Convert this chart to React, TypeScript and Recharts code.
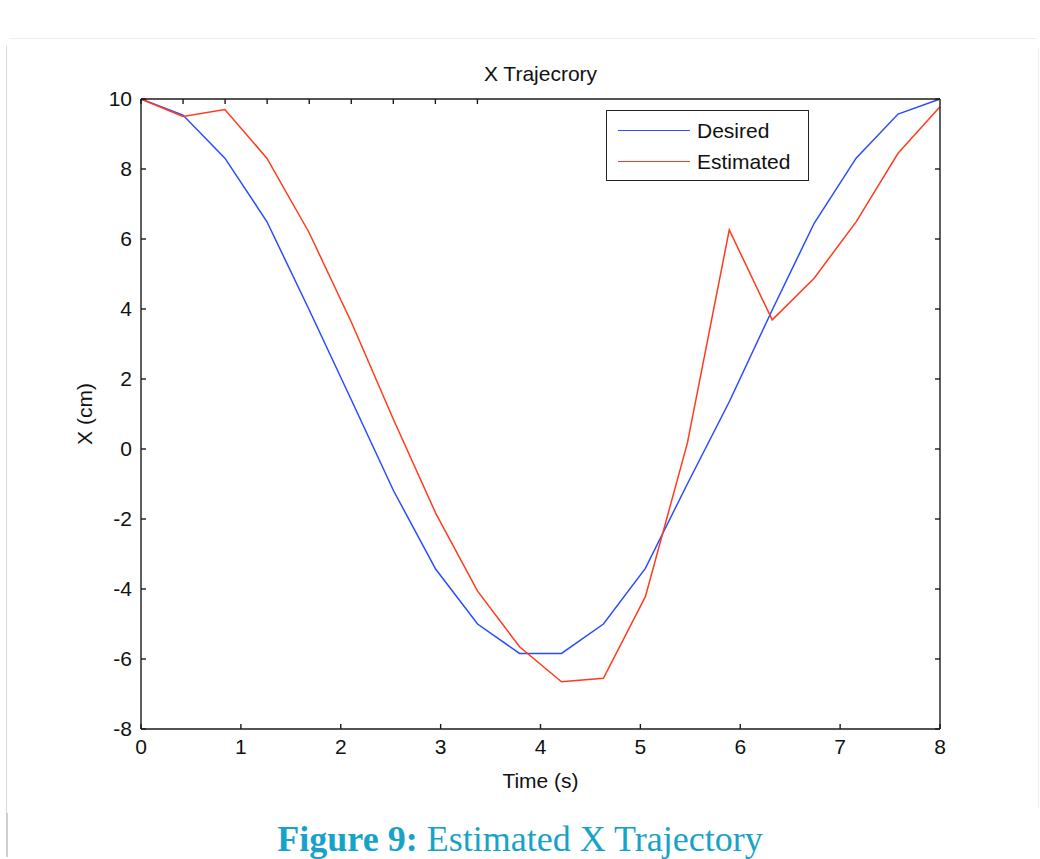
import React from 'react';
import { Label, Legend, Line, LineChart, XAxis, YAxis } from 'recharts';

// sample times (s)
const zeit = [0, 0.42, 0.84, 1.26, 1.68, 2.11, 2.53, 2.95, 3.37, 3.79, 4.21, 4.63, 5.05, 5.47, 5.89, 6.32, 6.74, 7.16, 7.58, 8];

// X position (cm)
const gewuenscht = [10, 9.54, 8.31, 6.5, 4.0, 1.38, -1.2, -3.43, -5.0, -5.84, -5.84, -5.0, -3.41, -1.0, 1.35, 3.97, 6.45, 8.31, 9.57, 10];
const geschaetzt = [10, 9.5, 9.7, 8.31, 6.2, 3.6, 0.83, -1.83, -4.06, -5.65, -6.65, -6.55, -4.22, 0.16, 6.26, 3.69, 4.88, 6.49, 8.45, 9.78];

const xTicks = [0, 1, 2, 3, 4, 5, 6, 7, 8];
const yTicks = [-8, -6, -4, -2, 0, 2, 4, 6, 8, 10];

const daten = zeit.map((t, i) => ({ t, desired: gewuenscht[i], estimated: geschaetzt[i] }));

const SCHRIFT = '"Liberation Sans", Arial, sans-serif';
const tickStil = { fill: '#111', fontSize: 21, fontFamily: SCHRIFT };
const achse = { stroke: '#1a1a1a', strokeWidth: 1.4 };
const leer = () => '';

function LegendenBox({ payload }: any) {
  return (
    <div
      style={{
        boxSizing: 'border-box',
        width: 203,
        height: 71,
        border: '1.5px solid #222',
        background: '#fff',
        padding: '4px 0 0 11px',
        fontFamily: SCHRIFT,
        fontSize: 21,
        color: '#111',
      }}
    >
      {(payload || []).map((e: any) => (
        <div key={e.value} style={{ display: 'flex', alignItems: 'center', height: 31 }}>
          <span style={{ display: 'inline-block', width: 72, height: 0, borderTop: `1.5px solid ${e.color}`, marginRight: 7 }} />
          <span>{e.value}</span>
        </div>
      ))}
    </div>
  );
}

export default function App() {
  return (
    <div style={{ position: 'absolute', left: 0, top: 0, width: 1040, height: 859, background: '#fff' }}>
      {/* Rahmen */}
      <div style={{ position: 'absolute', left: 9, right: 3, top: 38, height: 0, borderTop: '1px solid #f0f0f0' }} />
      <div style={{ position: 'absolute', left: 6, top: 46, height: 767, width: 0, borderLeft: '1px solid #d8d8d8' }} />
      <div style={{ position: 'absolute', left: 6, top: 813, height: 44, width: 0, borderLeft: '2px solid #cfcfcf' }} />
      <div style={{ position: 'absolute', left: 1038, top: 48, height: 760, width: 0, borderLeft: '1px solid #f0f0f0' }} />

      <div
        style={{
          position: 'absolute',
          left: 141,
          width: 799,
          top: 63,
          textAlign: 'center',
          fontFamily: SCHRIFT,
          fontSize: 21,
          lineHeight: '21px',
          color: '#111',
        }}
      >
        X Trajecrory
      </div>

      <LineChart width={1040} height={859} data={daten} margin={{ top: 89, right: 90, bottom: 26, left: 29 }}>
        <XAxis
          dataKey="t"
          type="number"
          domain={[0, 8]}
          ticks={xTicks}
          height={104}
          tick={tickStil}
          tickSize={-5}
          tickMargin={15}
          tickLine={achse}
          axisLine={achse}
        >
          <Label value="Time (s)" position="center" fill="#111" fontSize={21} fontFamily={SCHRIFT} />
        </XAxis>
        <XAxis
          xAxisId="top"
          orientation="top"
          type="number"
          domain={[0, 8]}
          allowDataOverflow
          ticks={xTicks}
          height={10}
          tickFormatter={leer}
          tickSize={-5}
          tickLine={achse}
          axisLine={achse}
        />
        <YAxis
          type="number"
          domain={[-8, 10]}
          ticks={yTicks}
          width={112}
          tick={tickStil}
          tickSize={-5}
          tickMargin={14}
          tickLine={achse}
          axisLine={achse}
        >
          <Label value="X (cm)" angle={-90} position="center" fill="#111" fontSize={21} fontFamily={SCHRIFT} />
        </YAxis>
        <YAxis
          yAxisId="right"
          orientation="right"
          type="number"
          domain={[-8, 10]}
          allowDataOverflow
          ticks={yTicks}
          width={10}
          tickFormatter={leer}
          tickSize={-5}
          tickLine={achse}
          axisLine={achse}
        />
        <Legend
          layout="horizontal"
          verticalAlign="middle"
          align="center"
          content={<LegendenBox />}
          wrapperStyle={{ left: 606, top: 110, width: 203, height: 71 }}
        />
        <Line
          type="linear"
          dataKey="desired"
          name="Desired"
          stroke="#2a4cff"
          strokeWidth={1.5}
          dot={false}
          isAnimationActive={false}
        />
        <Line
          type="linear"
          dataKey="estimated"
          name="Estimated"
          stroke="#ff3b1f"
          strokeWidth={1.5}
          dot={false}
          isAnimationActive={false}
        />
      </LineChart>

      <div
        style={{
          position: 'absolute',
          left: 0,
          width: 1040,
          top: 821,
          textAlign: 'center',
          fontFamily: '"Liberation Serif", "Times New Roman", serif',
          fontSize: 36,
          lineHeight: '36px',
          color: '#17a2c8',
          whiteSpace: 'nowrap',
        }}
      >
        <b>Figure 9:</b> Estimated X Trajectory
      </div>
    </div>
  );
}
